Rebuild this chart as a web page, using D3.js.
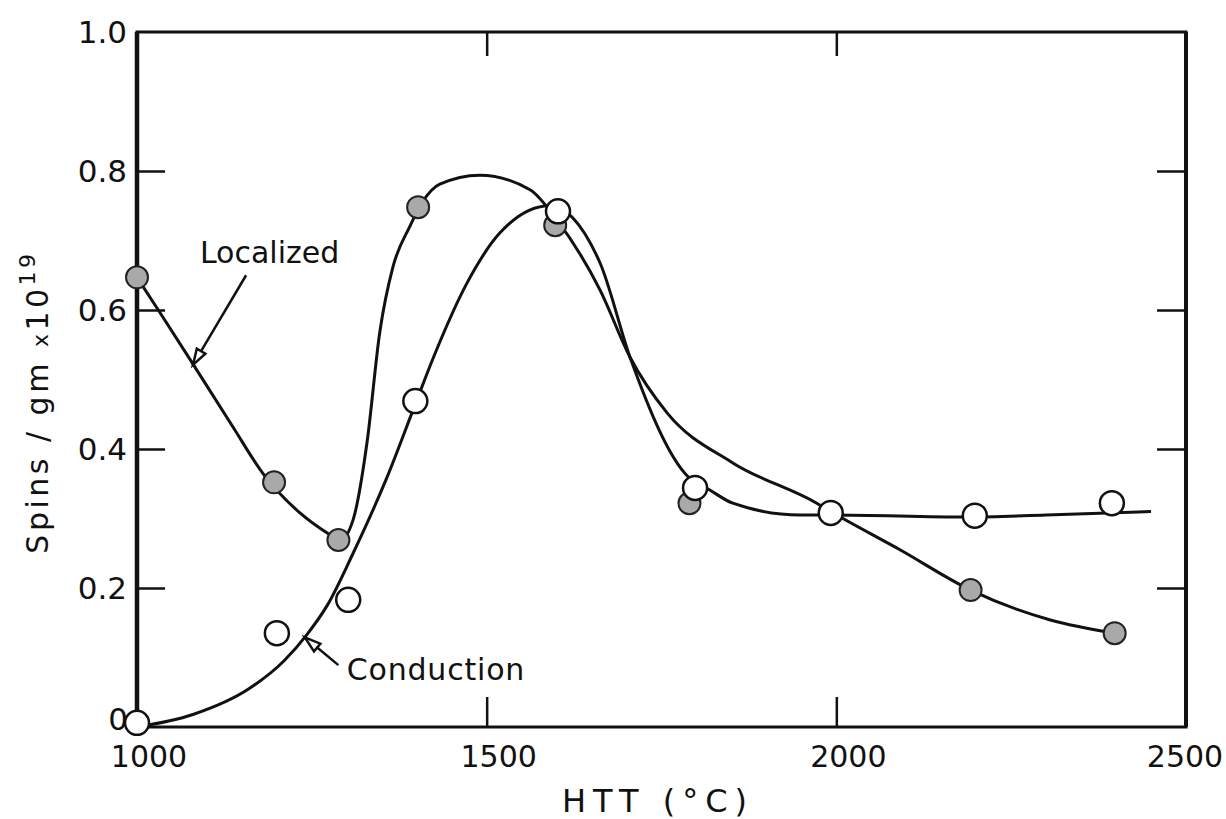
<!DOCTYPE html>
<html>
<head>
<meta charset="utf-8">
<script src="https://cdn.jsdelivr.net/npm/d3@7"></script>
<style>
  body { margin: 0; background: #fff; }
  text { font-family: "DejaVu Sans", sans-serif; fill: #111; }
</style>
</head>
<body>
<div id="chart"></div>
<script>
// measured points (HTT in degC, spins/gm x 1e19)
const localizedX = [1000, 1196, 1288, 1402, 1598, 1790, 1992, 2192, 2398];
const localizedY = [0.647, 0.352, 0.269, 0.748, 0.722, 0.322, 0.308, 0.197, 0.135];
const conductionX = [1000, 1200, 1302, 1398, 1602, 1798, 1992, 2198, 2394];
const conductionY = [0.006, 0.135, 0.183, 0.469, 0.742, 0.344, 0.308, 0.304, 0.322];

// hand drawn curves
const localizedCurveX = [1000, 1033, 1079, 1137, 1180, 1233, 1272, 1290, 1309, 1329, 1347, 1366, 1390, 1408, 1433, 1490, 1562, 1600, 1662, 1705, 1758, 1852, 1972, 1992, 2091, 2192, 2306, 2398];
const localizedCurveY = [0.647, 0.596, 0.524, 0.432, 0.365, 0.308, 0.279, 0.268, 0.298, 0.41, 0.567, 0.662, 0.72, 0.755, 0.781, 0.794, 0.773, 0.73, 0.629, 0.532, 0.452, 0.38, 0.322, 0.31, 0.255, 0.197, 0.154, 0.135];
const conductionCurveX = [1000, 1080, 1160, 1210, 1243, 1272, 1309, 1357, 1397, 1424, 1472, 1519, 1590, 1662, 1705, 1788, 1819, 1852, 1948, 1992, 2187, 2300, 2450];
const conductionCurveY = [0.0, 0.018, 0.055, 0.095, 0.133, 0.175, 0.25, 0.358, 0.462, 0.532, 0.639, 0.711, 0.75, 0.668, 0.532, 0.36, 0.341, 0.322, 0.305, 0.305, 0.302, 0.305, 0.31];

const xTicks = [1000, 1500, 2000, 2500];
const yTicks = [0, 0.2, 0.4, 0.6, 0.8, 1.0];
const yTickLabels = ["0", "0.2", "0.4", "0.6", "0.8", "1.0"];

const margin = {top: 32, bottom: 92, left: 137, right: 40};
const width = 1226 - margin.left - margin.right;
const height = 819 - margin.top - margin.bottom;

const svg = d3.select("#chart").append("svg")
  .attr("width", width + margin.left + margin.right)
  .attr("height", height + margin.top + margin.bottom);

const x = d3.scaleLinear().domain([1000, 2500]).range([0, width]);
const y = d3.scaleLinear().domain([0, 1]).range([height, 0]);

const g = svg.append("g")
  .attr("transform", "translate(" + margin.left + "," + margin.top + ")");

// ticks (inward)
const tickStyle = sel => sel.selectAll("line").attr("stroke", "#111").attr("stroke-width", 2.5);

g.append("g")
  .call(d3.axisLeft(y).tickValues(yTicks.slice(1, 5)).tickSize(-28).tickFormat(""))
  .call(a => a.select(".domain").remove())
  .call(tickStyle);
g.append("g")
  .attr("transform", "translate(" + width + ",0)")
  .call(d3.axisRight(y).tickValues(yTicks.slice(1, 5)).tickSize(-29).tickFormat(""))
  .call(a => a.select(".domain").remove())
  .call(tickStyle);
g.append("g")
  .attr("transform", "translate(0," + height + ")")
  .call(d3.axisBottom(x).tickValues([1500, 2000]).tickSize(-30).tickFormat(""))
  .call(a => a.select(".domain").remove())
  .call(tickStyle);
g.append("g")
  .call(d3.axisTop(x).tickValues([1500, 2000]).tickSize(-24).tickFormat(""))
  .call(a => a.select(".domain").remove())
  .call(tickStyle);

// frame
g.append("rect")
  .attr("width", width).attr("height", height)
  .attr("fill", "none").attr("stroke", "#111").attr("stroke-width", 3);
g.append("line")
  .attr("x1", 0).attr("x2", 0).attr("y1", 0).attr("y2", height)
  .attr("stroke", "#111").attr("stroke-width", 4.5);
g.append("line")
  .attr("x1", width).attr("x2", width).attr("y1", 0).attr("y2", height)
  .attr("stroke", "#111").attr("stroke-width", 4);

// tick labels
g.selectAll(".ylab").data(yTicks).enter().append("text")
  .attr("class", "ylab")
  .attr("x", (d, i) => i === 0 ? -9 : -10)
  .attr("y", d => y(d) + (d === 0 ? -8 : 0))
  .attr("dy", "0.36em")
  .attr("text-anchor", "end")
  .style("font-size", "31px")
  .text((d, i) => yTickLabels[i]);

g.selectAll(".xlab").data(xTicks).enter().append("text")
  .attr("class", "xlab")
  .attr("x", (d, i) => x(d) + (i === xTicks.length - 1 ? -1 : 12))
  .attr("y", height + 40)
  .attr("text-anchor", "middle")
  .style("font-size", "30px")
  .text(d => d);

// axis titles
svg.append("text")
  .attr("x", margin.left + x(1745))
  .attr("y", 812)
  .attr("text-anchor", "middle")
  .style("font-size", "32px")
  .style("letter-spacing", "7px")
  .text("HTT (°C)");

const yt = svg.append("text")
  .attr("transform", "translate(48,402) rotate(-90)")
  .attr("text-anchor", "middle")
  .style("font-size", "30px")
  .style("letter-spacing", "3.5px");
yt.append("tspan").text("Spins / gm ");
yt.append("tspan").style("font-size", "22px").text("x");
yt.append("tspan").text("10");
yt.append("tspan").attr("dy", -13).style("font-size", "22px").text("19");

// curves
const line = d3.line()
  .x(d => x(d[0])).y(d => y(d[1]))
  .curve(d3.curveMonotoneX);

g.append("path")
  .datum(localizedCurveX.map((v, i) => [v, localizedCurveY[i]]))
  .attr("d", line)
  .attr("fill", "none").attr("stroke", "#111").attr("stroke-width", 3);
g.append("path")
  .datum(conductionCurveX.map((v, i) => [v, conductionCurveY[i]]))
  .attr("d", line)
  .attr("fill", "none").attr("stroke", "#111").attr("stroke-width", 3);

// markers
g.selectAll(".loc").data(localizedX).enter().append("circle")
  .attr("class", "loc")
  .attr("cx", d => x(d))
  .attr("cy", (d, i) => y(localizedY[i]))
  .attr("r", 11)
  .attr("fill", "#a9a9a9")
  .attr("stroke", "#222").attr("stroke-width", 2);

g.selectAll(".con").data(conductionX).enter().append("circle")
  .attr("class", "con")
  .attr("cx", d => x(d))
  .attr("cy", (d, i) => y(conductionY[i]))
  .attr("r", 12)
  .attr("fill", "#fff")
  .attr("stroke", "#111").attr("stroke-width", 2.5);

// annotations
function arrow(x0, y0, x1, y1) {
  const px0 = x(x0), py0 = y(y0), px1 = x(x1), py1 = y(y1);
  const ang = Math.atan2(py1 - py0, px1 - px0);
  const L = 16, w = 5;
  const bx = px1 - L * Math.cos(ang), by = py1 - L * Math.sin(ang);
  g.append("line")
    .attr("x1", px0).attr("y1", py0).attr("x2", bx).attr("y2", by)
    .attr("stroke", "#111").attr("stroke-width", 2.5);
  g.append("path")
    .attr("d", "M" + px1 + "," + py1 +
      "L" + (bx + w * Math.sin(ang)) + "," + (by - w * Math.cos(ang)) +
      "L" + (bx - w * Math.sin(ang)) + "," + (by + w * Math.cos(ang)) + "Z")
    .attr("fill", "#fff").attr("stroke", "#111").attr("stroke-width", 2.5);
}
arrow(1156, 0.650, 1080, 0.521);
arrow(1288, 0.089, 1240, 0.129);

g.append("text")
  .attr("x", x(1090)).attr("y", y(0.667))
  .style("font-size", "30px")
  .text("Localized");
g.append("text")
  .attr("x", x(1300)).attr("y", y(0.068))
  .style("font-size", "30px")
  .style("letter-spacing", "0.8px")
  .text("Conduction");
</script>
</body>
</html>
